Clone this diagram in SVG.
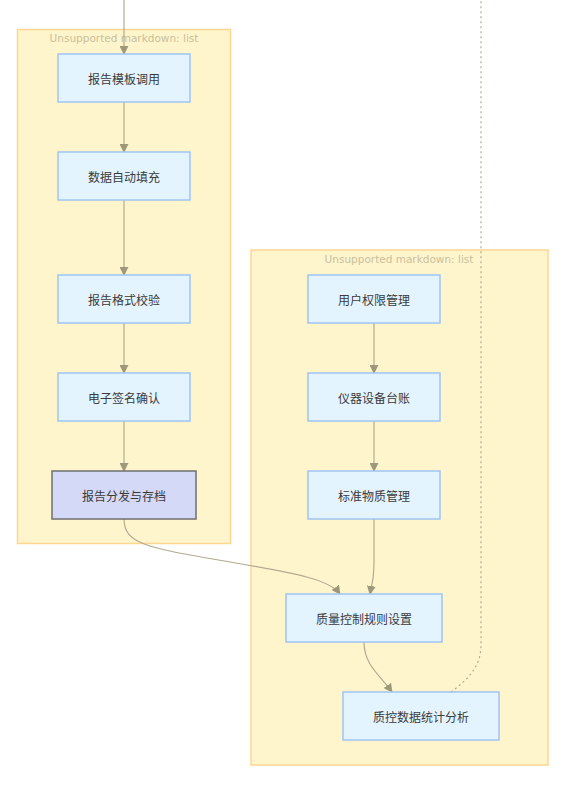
<svg xmlns="http://www.w3.org/2000/svg" width="562" height="788" viewBox="0 0 562 788">
<defs>
<style>
.cluster{fill:#fff5cc;stroke:#ffd68f;stroke-width:1.5}
.ctitle{font-family:"DejaVu Sans","Liberation Sans",sans-serif;font-size:10.5px;fill:#c9bf9c;text-anchor:middle}
.node rect{fill:#e4f4ff;stroke:#9fc4f2;stroke-width:1.5}
.node.final rect{fill:#d4d9f7;stroke:#6f6f6f;stroke-width:1.5}
.node text{font-family:"Noto Sans CJK SC","Liberation Sans",sans-serif;font-size:12px;fill:#3a3a3a;text-anchor:middle;dominant-baseline:central}
.edge{fill:none;stroke:#b3ab90;stroke-width:1.2}
.dotted{fill:none;stroke:#b3ab90;stroke-width:1.2;stroke-dasharray:2 3}
</style>
<marker id="arrow" viewBox="0 0 10 10" refX="9" refY="5" markerWidth="9" markerHeight="9" orient="auto" markerUnits="userSpaceOnUse">
<path d="M0,0 L10,5 L0,10 z" fill="#9e987a"/>
</marker>
</defs>
<rect width="562" height="788" fill="#ffffff"/>
<g id="cluster-left">
<rect class="cluster" x="17.5" y="29.5" width="213" height="514"/>
<text class="ctitle" x="124" y="42">Unsupported markdown: list</text>
</g>
<g id="cluster-right">
<rect class="cluster" x="251" y="250" width="297" height="515"/>
<text class="ctitle" x="399" y="263">Unsupported markdown: list</text>
</g>
<g id="connectors">
<path class="edge" d="M124,0 L124,54" marker-end="url(#arrow)"/>
<path class="edge" d="M124,102 L124,152" marker-end="url(#arrow)"/>
<path class="edge" d="M124,200 L124,275" marker-end="url(#arrow)"/>
<path class="edge" d="M124,323 L124,373" marker-end="url(#arrow)"/>
<path class="edge" d="M124,421 L124,471" marker-end="url(#arrow)"/>
<path class="edge" d="M124,519 C124,545 150,548 230,562 C300,574 330,580 340,594" marker-end="url(#arrow)"/>
<path class="edge" d="M374,323 L374,373" marker-end="url(#arrow)"/>
<path class="edge" d="M374,421 L374,471" marker-end="url(#arrow)"/>
<path class="edge" d="M374,519 L374,565 C374,580 371,588 370,594" marker-end="url(#arrow)"/>
<path class="edge" d="M364,642 C364,665 380,675 392,692" marker-end="url(#arrow)"/>
<path class="dotted" d="M451,692 C470,678 481,665 481,645 L481,0"/>
</g>
<g id="node-report-template" class="node">
<rect x="58" y="54" width="132" height="48"/>
<text x="124" y="78">报告模板调用</text>
</g>
<g id="node-data-fill" class="node">
<rect x="58" y="152" width="132" height="48"/>
<text x="124" y="176">数据自动填充</text>
</g>
<g id="node-format-check" class="node">
<rect x="58" y="275" width="132" height="48"/>
<text x="124" y="299">报告格式校验</text>
</g>
<g id="node-esign" class="node">
<rect x="58" y="373" width="132" height="48"/>
<text x="124" y="397">电子签名确认</text>
</g>
<g id="node-distribute" class="node final">
<rect x="52" y="471" width="144" height="48"/>
<text x="124" y="495">报告分发与存档</text>
</g>
<g id="node-user-perm" class="node">
<rect x="308" y="275" width="132" height="48"/>
<text x="374" y="299">用户权限管理</text>
</g>
<g id="node-instrument" class="node">
<rect x="308" y="373" width="132" height="48"/>
<text x="374" y="397">仪器设备台账</text>
</g>
<g id="node-standard" class="node">
<rect x="308" y="471" width="132" height="48"/>
<text x="374" y="495">标准物质管理</text>
</g>
<g id="node-qc-rule" class="node">
<rect x="286" y="594" width="156" height="48"/>
<text x="364" y="618">质量控制规则设置</text>
</g>
<g id="node-qc-stats" class="node">
<rect x="343" y="692" width="156" height="48"/>
<text x="421" y="716">质控数据统计分析</text>
</g>
</svg>
